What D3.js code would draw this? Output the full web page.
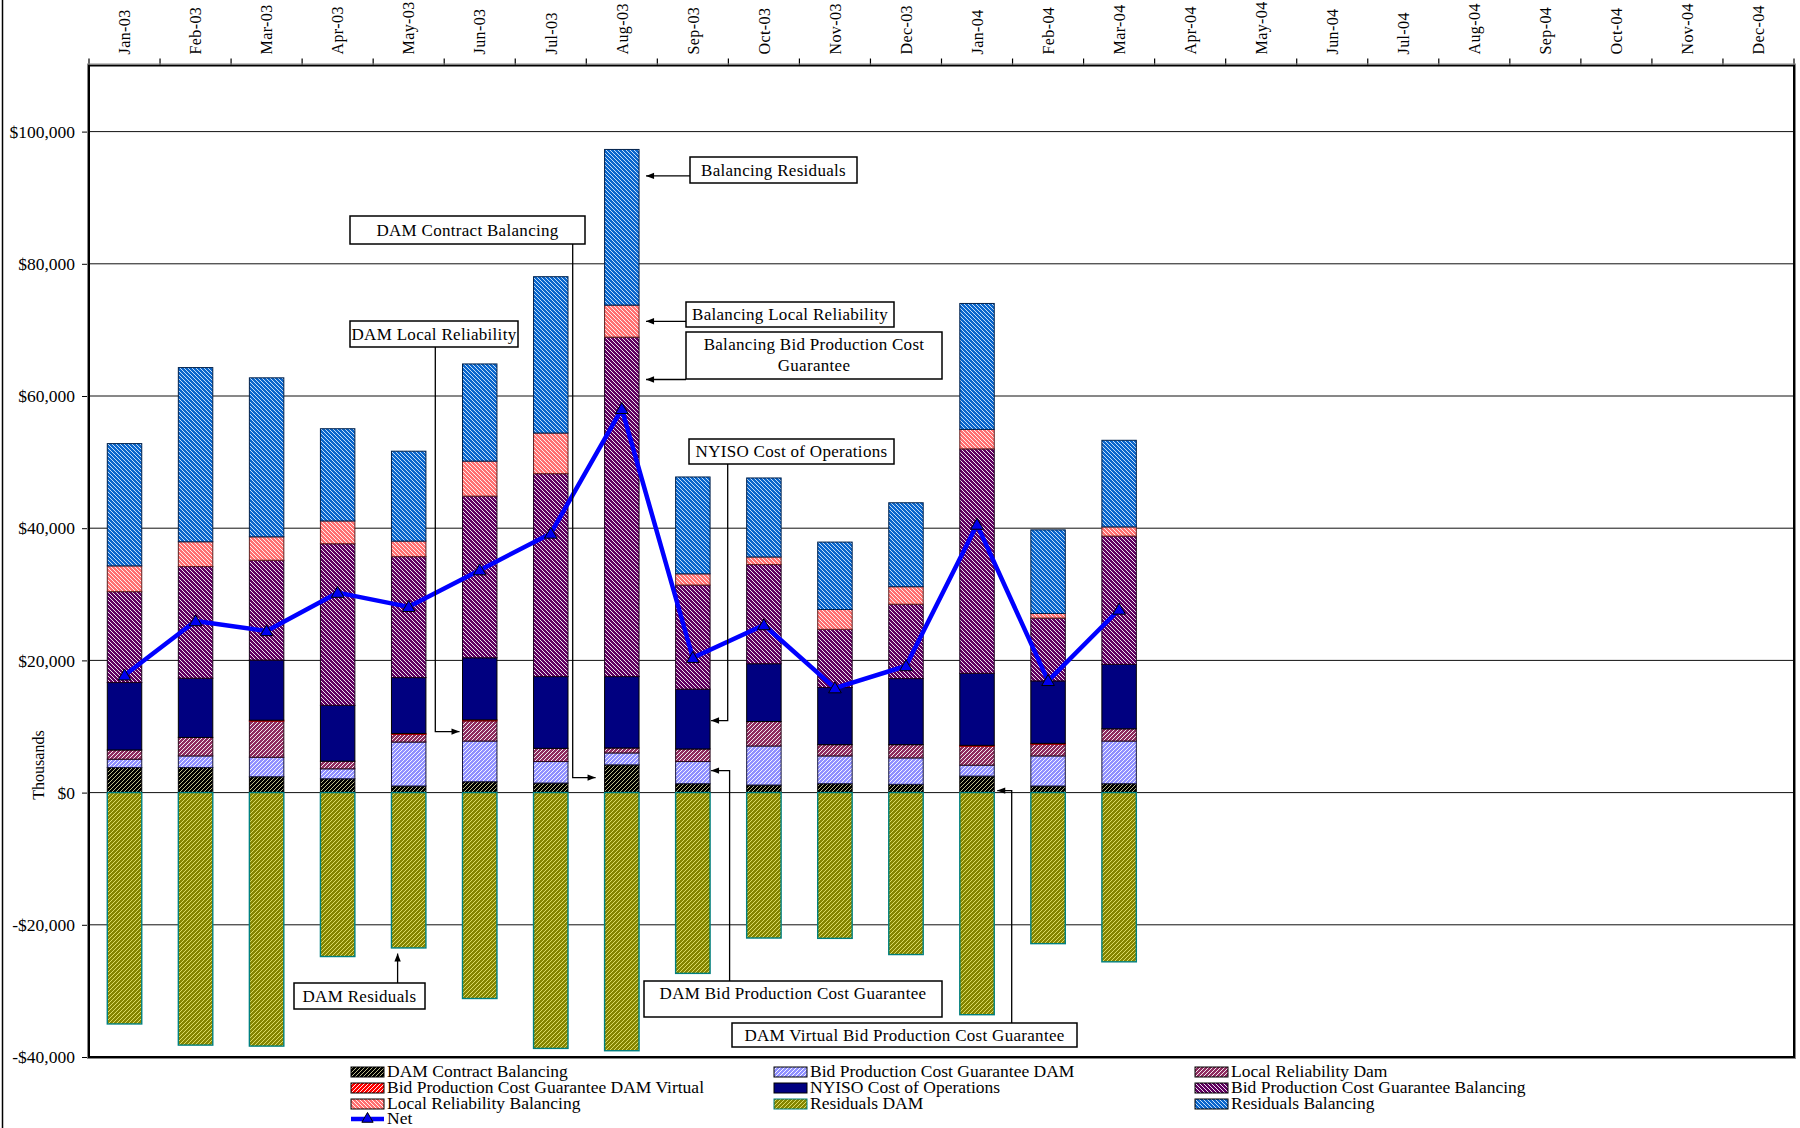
<!DOCTYPE html>
<html><head><meta charset="utf-8">
<script src="https://cdn.jsdelivr.net/npm/d3@7"></script>
<style>
html,body{margin:0;padding:0;background:#fff;}
svg{display:block;font-family:"Liberation Serif","Times New Roman",serif;}
</style></head>
<body><svg id="chart" width="1800" height="1128"></svg>
<script>
// ---------------- DATA ----------------
const months = ["Jan-03","Feb-03","Mar-03","Apr-03","May-03","Jun-03","Jul-03","Aug-03","Sep-03","Oct-03","Nov-03","Dec-03",
                "Jan-04","Feb-04","Mar-04","Apr-04","May-04","Jun-04","Jul-04","Aug-04","Sep-04","Oct-04","Nov-04","Dec-04"];
// values in thousands of $, Jan-03 .. Mar-04
const damContractBalancing = [3800,3800,2400,2100,1000,1650,1450,4200,1350,1150,1350,1250,2500,1000,1350];
const bpcgDam              = [1250,1750,2950,1500,6650,6150,3250,1800,3350,5900,4200,4000,1650,4550,6450];
const localReliabilityDam  = [1400,2800,5450,1150,1150,3050,2000,750,1900,3700,1700,2000,2850,1750,1850];
const bpcgDamVirtual       = [0,0,150,0,150,150,0,0,0,0,0,0,150,150,0];
const nyisoCostOfOps       = [10200,8950,9100,8450,8450,9400,10850,10800,9050,8750,8650,10000,10900,9450,9750];
const bpcgBalancing        = [13750,16900,15100,24450,18300,24450,30700,51350,15750,15000,8800,11250,33950,9500,19400];
const localRelBalancing    = [3900,3750,3550,3450,2350,5300,6150,4850,1700,1150,3000,2650,2950,700,1400];
const residualsDam         = [-35000,-38200,-38350,-24800,-23500,-31150,-38700,-39050,-27350,-22000,-22050,-24500,-33600,-22850,-25600];
const residualsBalancing   = [18500,26350,24050,13950,13600,14700,23650,23550,14650,11950,10200,12700,19050,12650,13100];
const net                  = [17750,25950,24450,30250,28100,33650,39200,58050,20400,25350,15800,19150,40550,16900,27700];
const yTickValues = [-40000,-20000,0,20000,40000,60000,80000,100000];

const seriesNames = ["DAM Contract Balancing","Bid Production Cost Guarantee DAM","Local Reliability Dam",
  "Bid Production Cost Guarantee DAM Virtual","NYISO Cost of Operations","Bid Production Cost Guarantee Balancing",
  "Local Reliability Balancing","Residuals DAM","Residuals Balancing"];
const seriesValues = [damContractBalancing,bpcgDam,localReliabilityDam,bpcgDamVirtual,nyisoCostOfOps,bpcgBalancing,
  localRelBalancing,residualsDam,residualsBalancing];

// ---------------- STYLE ----------------
const styles = [
  {bg:"#000000", fg:"#cfcf9a", dir:"/", stroke:"#000"},
  {bg:"#9090ff", fg:"#ffffff", dir:"/", stroke:"#1a1a40"},
  {bg:"#8e2c60", fg:"#ffffff", dir:"/", stroke:"#2a0a1a"},
  {bg:"#ff0000", fg:"#ffffff", dir:"/", stroke:"#aa0000"},
  {bg:"#000080", fg:null,      dir:null, stroke:"#000"},
  {bg:"#600060", fg:"#ffffff", dir:"\\", stroke:"#1a001a"},
  {bg:"#ff7070", fg:"#ffffff", dir:"\\", stroke:"#602020"},
  {bg:"#858500", fg:"#e4e470", dir:"/", stroke:"#008080"},
  {bg:"#0a66cc", fg:"#d8ecff", dir:"\\", stroke:"#00204a"}
];

const svg = d3.select("#chart");
const W = 1800, H = 1128;
const L = 89, R = 1794, T = 65.5, B = 1057;

const defs = svg.append("defs");
styles.forEach((s,i)=>{
  if(!s.dir) return;
  const p = defs.append("pattern").attr("id","pat"+i).attr("patternUnits","userSpaceOnUse")
    .attr("width",4).attr("height",4);
  p.append("rect").attr("width",4).attr("height",4).attr("fill",s.bg);
  const d = s.dir==="/" ? "M0,4 l4,-4 M-1,1 l2,-2 M3,5 l2,-2" : "M0,0 l4,4 M-1,3 l2,2 M3,-1 l2,2";
  p.append("path").attr("d",d).attr("stroke",s.fg).attr("stroke-width",0.9);
});
const fillOf = i => styles[i].dir ? `url(#pat${i})` : styles[i].bg;

// ---------------- SCALES ----------------
const x = d3.scaleBand().domain(months).range([L,R]).padding(0);
const y = d3.scaleLinear().domain([-40000,110000]).range([B,T]);
const bw = x.bandwidth();
const barW = bw*0.485;

// table for stack
const table = months.slice(0, net.length).map((m,j)=>{
  const row = {month:m};
  seriesNames.forEach((n,i)=> row[n] = seriesValues[i][j]);
  return row;
});
const stacked = d3.stack().keys(seriesNames).offset(d3.stackOffsetDiverging)(table);

// outer chart border (left)
svg.append("line").attr("x1",2.5).attr("x2",2.5).attr("y1",0).attr("y2",H).attr("stroke","#000").attr("stroke-width",1.5);

// gridlines
svg.append("g").selectAll("line").data(yTickValues.filter(v=>v>-40000)).join("line")
  .attr("x1",L).attr("x2",R).attr("y1",d=>y(d)).attr("y2",d=>y(d))
  .attr("stroke","#111").attr("stroke-width",1);

// y axis
const fmt = d3.format(",");
const yAxis = svg.append("g").attr("transform",`translate(${L},0)`)
  .call(d3.axisLeft(y).tickValues(yTickValues).tickSize(7).tickPadding(7)
    .tickFormat(v => v<0 ? "-$"+fmt(-v) : "$"+fmt(v)));
yAxis.select(".domain").remove();
yAxis.selectAll("line").attr("stroke","#000");
yAxis.selectAll("text").attr("font-family","Liberation Serif").attr("font-size",17.5).attr("fill","#000");

svg.append("text").attr("transform","translate(38,765) rotate(-90)").attr("text-anchor","middle")
  .attr("dy","0.35em").attr("font-size",16).attr("fill","#000").text("Thousands");

// top category axis
const xAxis = svg.append("g").attr("transform",`translate(0,${T})`)
  .call(d3.axisTop(x).tickSize(0).tickPadding(0));
xAxis.select(".domain").remove();
xAxis.selectAll("text").attr("transform","rotate(-90)").attr("text-anchor","start")
  .attr("x",11).attr("y",0).attr("dy","0.36em").attr("font-family","Liberation Serif")
  .attr("font-size",16).attr("letter-spacing",0.4).attr("fill","#000");
svg.append("g").selectAll("line").data(months.map(m=>x(m)).concat([R])).join("line")
  .attr("x1",d=>d).attr("x2",d=>d).attr("y1",T).attr("y2",T-7).attr("stroke","#000").attr("stroke-width",1.2);

// bars
const gBars = svg.append("g");
stacked.forEach((ser,i)=>{
  gBars.append("g").selectAll("rect").data(ser.filter(d=>d[1]!==d[0])).join("rect")
    .attr("x",d=>x(d.data.month)+bw/2-barW/2).attr("width",barW)
    .attr("y",d=>y(Math.max(d[0],d[1]))).attr("height",d=>Math.abs(y(d[0])-y(d[1])))
    .attr("fill",fillOf(i)).attr("stroke",styles[i].stroke).attr("stroke-width",i===7?1.4:1);
});

// net line
const cx = (j)=> x(months[j])+bw/2;
svg.append("path").datum(net).attr("fill","none").attr("stroke","#0000ff").attr("stroke-width",4.5)
  .attr("stroke-linejoin","round")
  .attr("d",d3.line().x((d,j)=>cx(j)).y(d=>y(d)));
svg.append("g").selectAll("path").data(net).join("path")
  .attr("transform",(d,j)=>`translate(${cx(j)},${y(d)+1})`)
  .attr("d",d3.symbol(d3.symbolTriangle).size(70)())
  .attr("fill","#0000ee").attr("stroke","#000").attr("stroke-width",1);

// annotations
const notes = [
  {lines:["Balancing Residuals"], box:[690,157,167,26], route:"h", bx:690, month:"Aug-03", value:93300, side:1, gap:7},
  {lines:["Balancing Local Reliability"], box:[686,302,208,25], route:"h", bx:686, month:"Aug-03", value:71300, side:1, gap:7},
  {lines:["Balancing Bid Production Cost","Guarantee"], box:[686,332,256,47], route:"h", bx:686, month:"Aug-03", value:62500, side:1, gap:7},
  {lines:["NYISO Cost of Operations"], box:[689,439,205,25], route:"vh", vx:727.7, month:"Sep-03", value:10900, side:1, gap:1},
  {lines:["DAM Contract Balancing"], box:[350,216,235,28], route:"vh", vx:572.7, month:"Aug-03", value:2270, side:-1, gap:9},
  {lines:["DAM Local Reliability"], box:[350,321,168,26], route:"vh", vx:435.3, month:"Jun-03", value:9230, side:-1, gap:3},
  {lines:["DAM Residuals"], box:[294,983,131,26], route:"v", vx:397.6, month:"May-03", value:-24350},
  {lines:["DAM Bid Production Cost Guarantee"], box:[644,981,298,36], route:"vh", vx:729.6, month:"Sep-03", value:3330, side:1, gap:1, textY:993},
  {lines:["DAM Virtual Bid Production Cost Guarantee"], box:[732,1023,345,24], route:"vh", vx:1011.7, month:"Jan-04", value:300, side:1, gap:3}
];
const gN = svg.append("g");
function arrowHead(tx,ty,dirx,diry){
  const len=8, half=3.2;
  const bx=tx-dirx*len, by=ty-diry*len;
  const px=-diry, py=dirx;
  gN.append("path").attr("d",`M${tx},${ty}L${bx+px*half},${by+py*half}L${bx-px*half},${by-py*half}Z`).attr("fill","#000");
}
notes.forEach(n=>{
  const [bx0,by0,bwid,bh] = n.box;
  const ty = y(n.value);
  let pts, tx;
  if(n.route==="h"){
    tx = x(n.month)+bw/2 + n.side*(barW/2+n.gap);
    pts=[[n.bx,ty],[tx,ty]];
  } else if(n.route==="vh"){
    tx = x(n.month)+bw/2 + n.side*(barW/2+n.gap);
    const startY = by0 > ty ? by0 : by0+bh;
    pts=[[n.vx,startY],[n.vx,ty],[tx,ty]];
  } else {
    tx = n.vx;
    pts=[[n.vx,by0],[n.vx,ty]];
  }
  gN.append("path").attr("d",d3.line()(pts)).attr("fill","none").attr("stroke","#000").attr("stroke-width",1.3);
  const a=pts[pts.length-2], b=pts[pts.length-1];
  const dl=Math.hypot(b[0]-a[0],b[1]-a[1]);
  arrowHead(b[0],b[1],(b[0]-a[0])/dl,(b[1]-a[1])/dl);
  gN.append("rect").attr("x",bx0).attr("y",by0).attr("width",bwid).attr("height",bh)
    .attr("fill","#fff").attr("stroke","#000").attr("stroke-width",1.5);
  const cxT = bx0+bwid/2;
  if(n.lines.length===1){
    gN.append("text").attr("x",cxT).attr("y",n.textY||by0+bh/2).attr("dy","0.35em").attr("text-anchor","middle")
      .attr("font-size",17).attr("letter-spacing",0.3).attr("fill","#000").text(n.lines[0]);
  } else {
    n.lines.forEach((t,k)=>{
      gN.append("text").attr("x",cxT).attr("y",by0+12+k*21).attr("dy","0.35em").attr("text-anchor","middle")
        .attr("font-size",17).attr("letter-spacing",0.3).attr("fill","#000").text(t);
    });
  }
});

// plot border
svg.append("rect").attr("x",L).attr("y",T).attr("width",R-L).attr("height",B-T)
  .attr("fill","none").attr("stroke","#000").attr("stroke-width",2);
svg.append("rect").attr("x",L-1.5).attr("y",T-1.5).attr("width",R-L+3).attr("height",B-T+3)
  .attr("fill","none").attr("stroke","#888").attr("stroke-width",1);

// legend
const legendItems = seriesNames.map((n,i)=>({name:n, i})).concat([{name:"Net", i:-1}]);
const colX = [351,774,1195], rowY=[1072,1088,1104,1119];
const gL = svg.append("g");
legendItems.forEach((it,k)=>{
  const c = k%3, r = Math.floor(k/3);
  const lx = colX[c], ly = rowY[r];
  if(it.i>=0){
    gL.append("rect").attr("x",lx).attr("y",ly-5).attr("width",33).attr("height",10)
      .attr("fill",fillOf(it.i)).attr("stroke",it.i===7?"#008080":"#000").attr("stroke-width",1);
  } else {
    gL.append("line").attr("x1",lx).attr("x2",lx+33).attr("y1",ly).attr("y2",ly).attr("stroke","#0000ff").attr("stroke-width",4.5);
    gL.append("path").attr("transform",`translate(${lx+16.5},${ly})`).attr("d",d3.symbol(d3.symbolTriangle).size(55)())
      .attr("fill","#0000ee").attr("stroke","#000").attr("stroke-width",1);
  }
  gL.append("text").attr("x",lx+36).attr("y",ly).attr("dy","0.3em").attr("font-size",17.5).attr("fill","#000").text(it.name);
});
</script>
</body></html>
